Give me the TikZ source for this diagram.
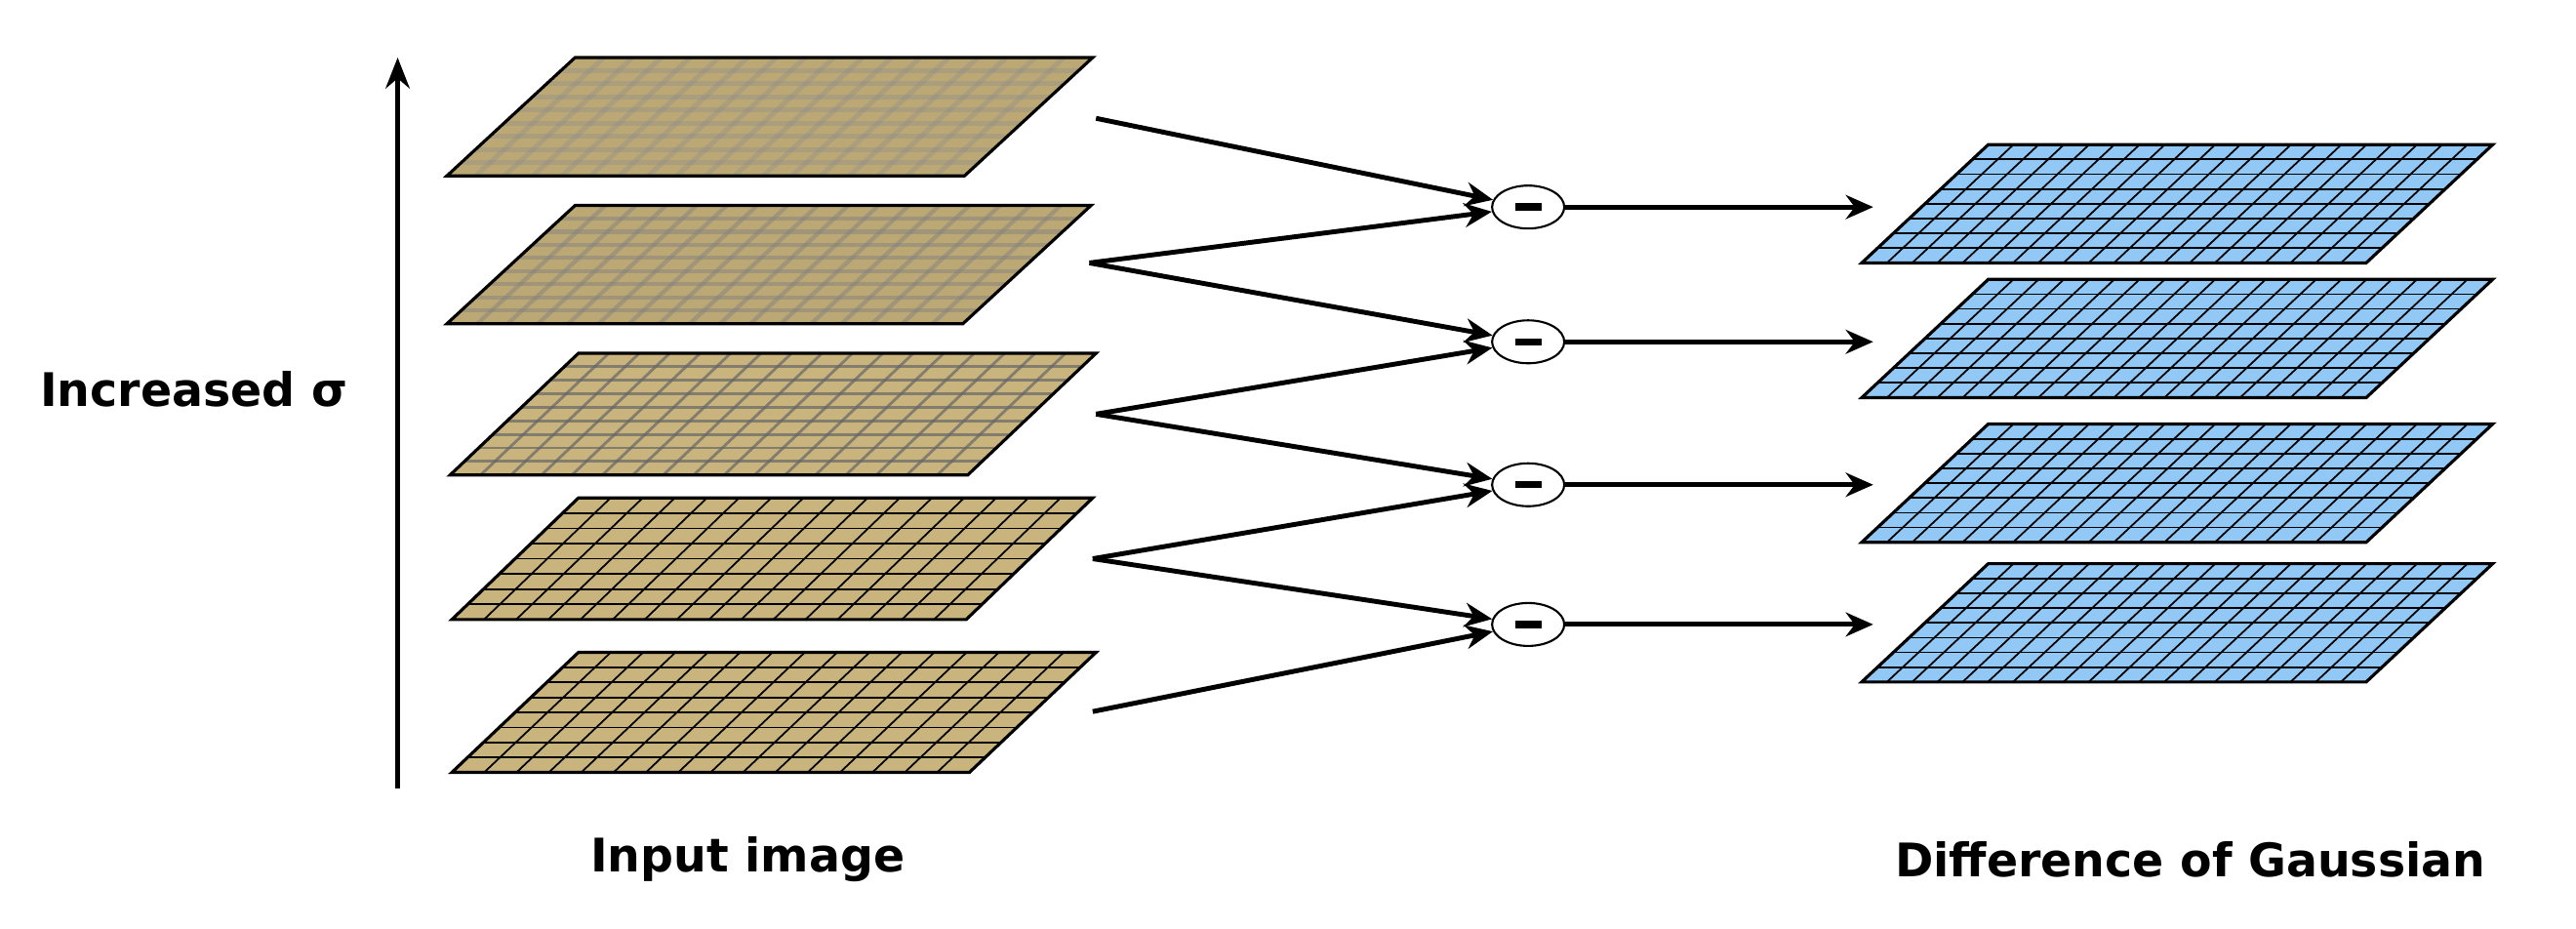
\documentclass[tikz,border=0pt]{standalone}
\usepackage{fontspec}
\setmainfont{DejaVu Sans}
\usetikzlibrary{arrows.meta,shapes.geometric}
\definecolor{tan}{HTML}{C9B47E}
\definecolor{tanblur}{HTML}{BBA874}
\definecolor{dogblue}{HTML}{92C8F5}
\tikzset{
  conn/.style={line width=1.4pt,-{Stealth[length=8pt,width=7pt]}},
  minusop/.style={draw,ellipse,line width=0.6pt,minimum width=0.74cm,minimum height=0.44cm,inner sep=0pt,fill=white},
  lbl/.style={font=\bfseries\fontsize{13.5}{16}\selectfont}
}
\newcommand{\plane}[9]{%
  \fill[#6] (#1,#2) -- ({#1+#3},#2) -- ({#1+#3-#4},{#2+#5}) -- ({#1-#4},{#2+#5}) -- cycle;
  \foreach \i in {1,...,\numexpr#7-1\relax}{
    \draw[#9] ({#1+#3*\i/#7},#2) -- ({#1+#3*\i/#7-#4},{#2+#5});}
  \foreach \j in {1,...,\numexpr#8-1\relax}{
    \draw[#9] ({#1-#4*\j/#8},{#2+#5*\j/#8}) -- ({#1+#3-#4*\j/#8},{#2+#5*\j/#8});}
  \draw[line width=0.9pt] (#1,#2) -- ({#1+#3},#2) -- ({#1+#3-#4},{#2+#5}) -- ({#1-#4},{#2+#5}) -- cycle;
}
\begin{document}
\begin{tikzpicture}[x=0.01684cm,y=-0.01684cm]
\useasboundingbox (0,0) rectangle (1567.7,565.3);
\coordinate (ab) at (242,480);
\coordinate (at) at (242,35);
\draw[line width=1.5pt,-{Stealth[length=9pt,width=7pt]}] (ab) -- (at);
\node[lbl] (sig) at (118,237) {Increased σ};
\plane{350}{35}{315}{78}{72}{tanblur}{18}{9}{black!45,line width=1.4pt,opacity=0.35}
\plane{350}{125}{314}{78}{72}{tanblur}{17}{9}{black!50,line width=1.2pt,opacity=0.45}
\plane{352}{215}{315}{78}{74}{tan}{17}{9}{black!60,line width=0.8pt,opacity=0.7}
\plane{352}{303}{313}{77}{74}{tan}{16}{8}{black,line width=0.5pt}
\plane{352}{397}{315}{77}{73}{tan}{16}{8}{black,line width=0.5pt}
\foreach \t in {88,170,258,343}{
  \plane{1210}{\t}{307}{77}{72}{dogblue}{20}{8}{black,line width=0.5pt}
}
\coordinate (p1) at (667,72);
\coordinate (p2) at (663,160);
\coordinate (p3) at (667,252);
\coordinate (p4) at (665,340);
\coordinate (p5) at (665,433);
\foreach \n/\y in {1/126,2/208,3/295,4/380}{
  \node[minusop] (e\n) at (930,\y) {};
  \fill ({930-8},{\y-2.2}) rectangle ({930+8},{\y+2.2});
  \coordinate (o\n) at (1140,\y);
  \draw[conn] (e\n.east) -- (o\n);
}
\draw[conn] (p1) -- (e1);
\draw[conn] (p2) -- (e1);
\draw[conn] (p2) -- (e2);
\draw[conn] (p3) -- (e2);
\draw[conn] (p3) -- (e3);
\draw[conn] (p4) -- (e3);
\draw[conn] (p4) -- (e4);
\draw[conn] (p5) -- (e4);
\node[lbl] (inp) at (455,523) {Input image};
\node[lbl] (dog) at (1333,523) {Difference of Gaussian};
\end{tikzpicture}
\end{document}
